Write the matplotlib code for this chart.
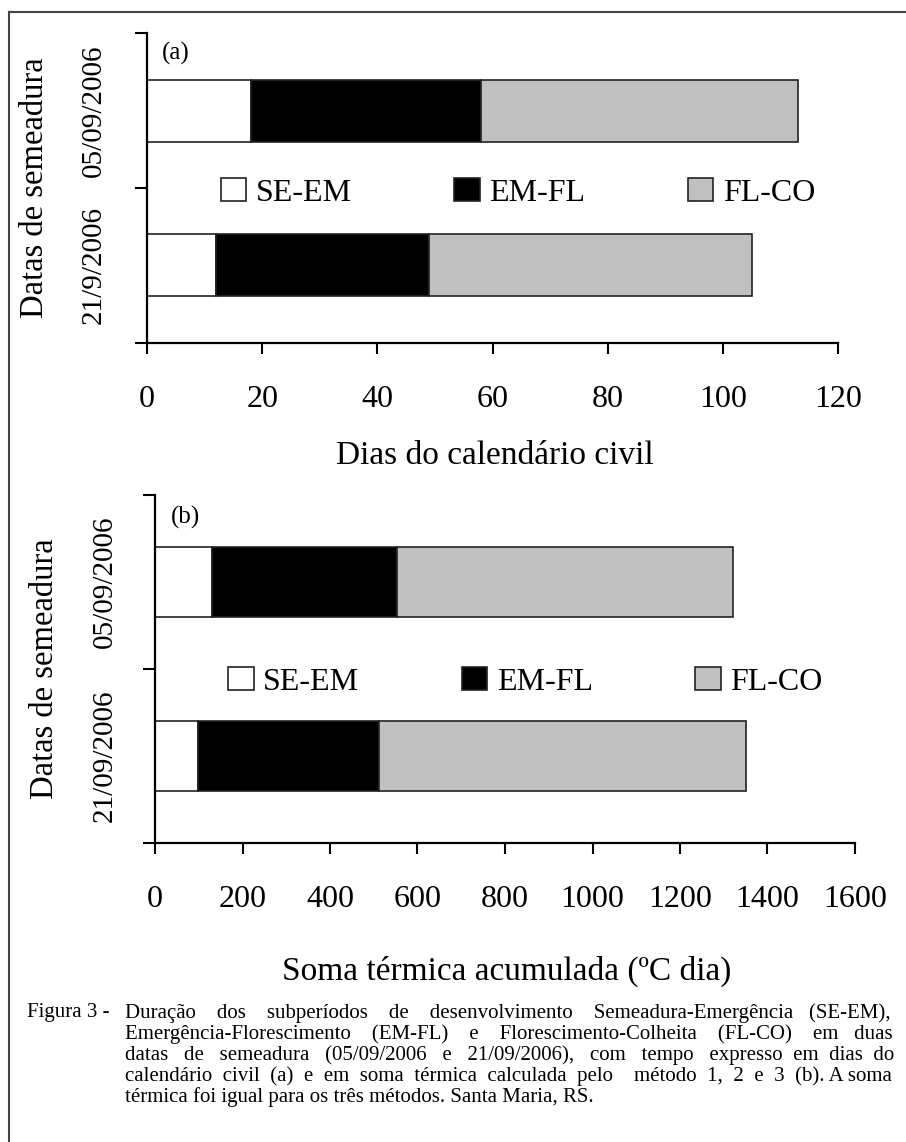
import matplotlib.pyplot as plt
from matplotlib.lines import Line2D

plt.rcParams['font.family'] = ['Liberation Serif', 'DejaVu Serif']

# dados
datas_a = ['05/09/2006', '21/9/2006']
datas_b = ['05/09/2006', '21/09/2006']
fases = ['SE-EM', 'EM-FL', 'FL-CO']
cores = ['white', 'black', '#c0c0c0']

dias_se_em = [18, 12]
dias_em_fl = [40, 37]
dias_fl_co = [55, 56]

soma_se_em = [130, 98]
soma_em_fl = [422, 415]
soma_fl_co = [769, 837]

legenda = ("Figura 3 - ",
           ["Duração dos subperíodos de desenvolvimento Semeadura-Emergência (SE-EM),",
            "Emergência-Florescimento (EM-FL) e Florescimento-Colheita (FL-CO) em duas",
            "datas de semeadura (05/09/2006 e 21/09/2006), com tempo expresso em dias do",
            "calendário civil (a) e em soma térmica calculada pelo  método 1, 2 e 3 (b). A soma",
            "térmica foi igual para os três métodos. Santa Maria, RS."])

W, H = 906, 1142
fig = plt.figure(figsize=(W / 100, H / 100), dpi=100)


def px(x, y):
    return x / W, 1 - y / H


def painel(rect, datas, series, xmax, xstep, letra, leg_pos, tick_pad):
    ax = fig.add_axes(rect)
    n = len(datas)
    pos = [n - i - 0.5 for i in range(n)]
    left = [0] * n
    for vals, cor, nome in zip(series, cores, fases):
        ax.barh(pos, vals, height=0.4, left=left, color=cor,
                edgecolor='#222222', linewidth=1.2, label=nome)
        left = [a + b for a, b in zip(left, vals)]
    ax.set_xlim(0, xmax)
    ax.set_ylim(0, n)
    ax.set_xticks(range(0, xmax + 1, xstep))
    ax.set_yticks(range(0, n + 1))
    ax.set_yticklabels([])
    ax.set_yticks(pos, minor=True)
    ax.set_yticklabels(datas, minor=True, rotation=90, va='center', fontsize=21)
    ax.tick_params(axis='y', which='minor', length=0, pad=tick_pad)
    ax.tick_params(axis='y', which='major', length=8.5, width=1.5)
    ax.tick_params(axis='x', length=8, width=1.5, labelsize=23, pad=22)
    for s in ['top', 'right']:
        ax.spines[s].set_visible(False)
    for s in ['left', 'bottom']:
        ax.spines[s].set_linewidth(1.6)
    ax.text(0.022, 0.935, letra, transform=ax.transAxes, fontsize=18,
            ha='left', va='center')
    ax.legend(loc='center', bbox_to_anchor=leg_pos, ncol=3, frameon=False,
              fontsize=23, handlelength=0.8, handleheight=0.7,
              handletextpad=0.3, columnspacing=3.2, borderpad=0)
    return ax


ax1 = painel([147 / W, 1 - 343 / H, 691 / W, 310 / H], datas_a,
             [dias_se_em, dias_em_fl, dias_fl_co], 120, 20, '(a)',
             (0.537, 0.484), 29)
ax2 = painel([155 / W, 1 - 843 / H, 700 / W, 348 / H], datas_b,
             [soma_se_em, soma_em_fl, soma_fl_co], 1600, 200, '(b)',
             (0.529, 0.463), 27)

fig.text(*px(35, 188), 'Datas de semeadura', rotation=90, ha='center',
         va='center', fontsize=23.5)
fig.text(*px(45, 669), 'Datas de semeadura', rotation=90, ha='center',
         va='center', fontsize=23.5)
fig.text(*px(495, 456), 'Dias do calendário civil', ha='center',
         va='center', fontsize=24)
fig.text(*px(507, 971), 'Soma térmica acumulada (ºC dia)', ha='center',
         va='center', fontsize=24)

# moldura
fig.add_artist(Line2D([9 / W, 1], [1 - 12 / H] * 2, color='#444444', lw=1.5))
fig.add_artist(Line2D([9 / W] * 2, [0, 1 - 12 / H], color='#444444', lw=1.5))

# legenda da figura, justificada com espaços
renderer = fig.canvas.get_renderer()
fs = 15
fig.text(*px(27, 1013), legenda[0], fontsize=fs, va='center', ha='left')
x0, x1 = 125, 892
sp = fig.text(0, 0, 'a a', fontsize=fs)
sw = sp.get_window_extent(renderer).width
sp.set_text('aa')
sw -= sp.get_window_extent(renderer).width
sp.remove()
for i, linha in enumerate(legenda[1]):
    t = fig.text(*px(x0, 1013 + 21 * i), linha, fontsize=fs, va='center', ha='left')
    if i == len(legenda[1]) - 1:
        continue
    w = t.get_window_extent(renderer).width
    extra = max(0, int(round((x1 - x0 - w) / sw)))
    palavras = linha.split(' ')
    gaps = len(palavras) - 1
    out = palavras[0]
    for k, p in enumerate(palavras[1:]):
        add = extra // gaps + (1 if k < extra % gaps else 0)
        out += ' ' * (1 + add) + p
    t.set_text(out)

fig.savefig('out.png', dpi=100)
